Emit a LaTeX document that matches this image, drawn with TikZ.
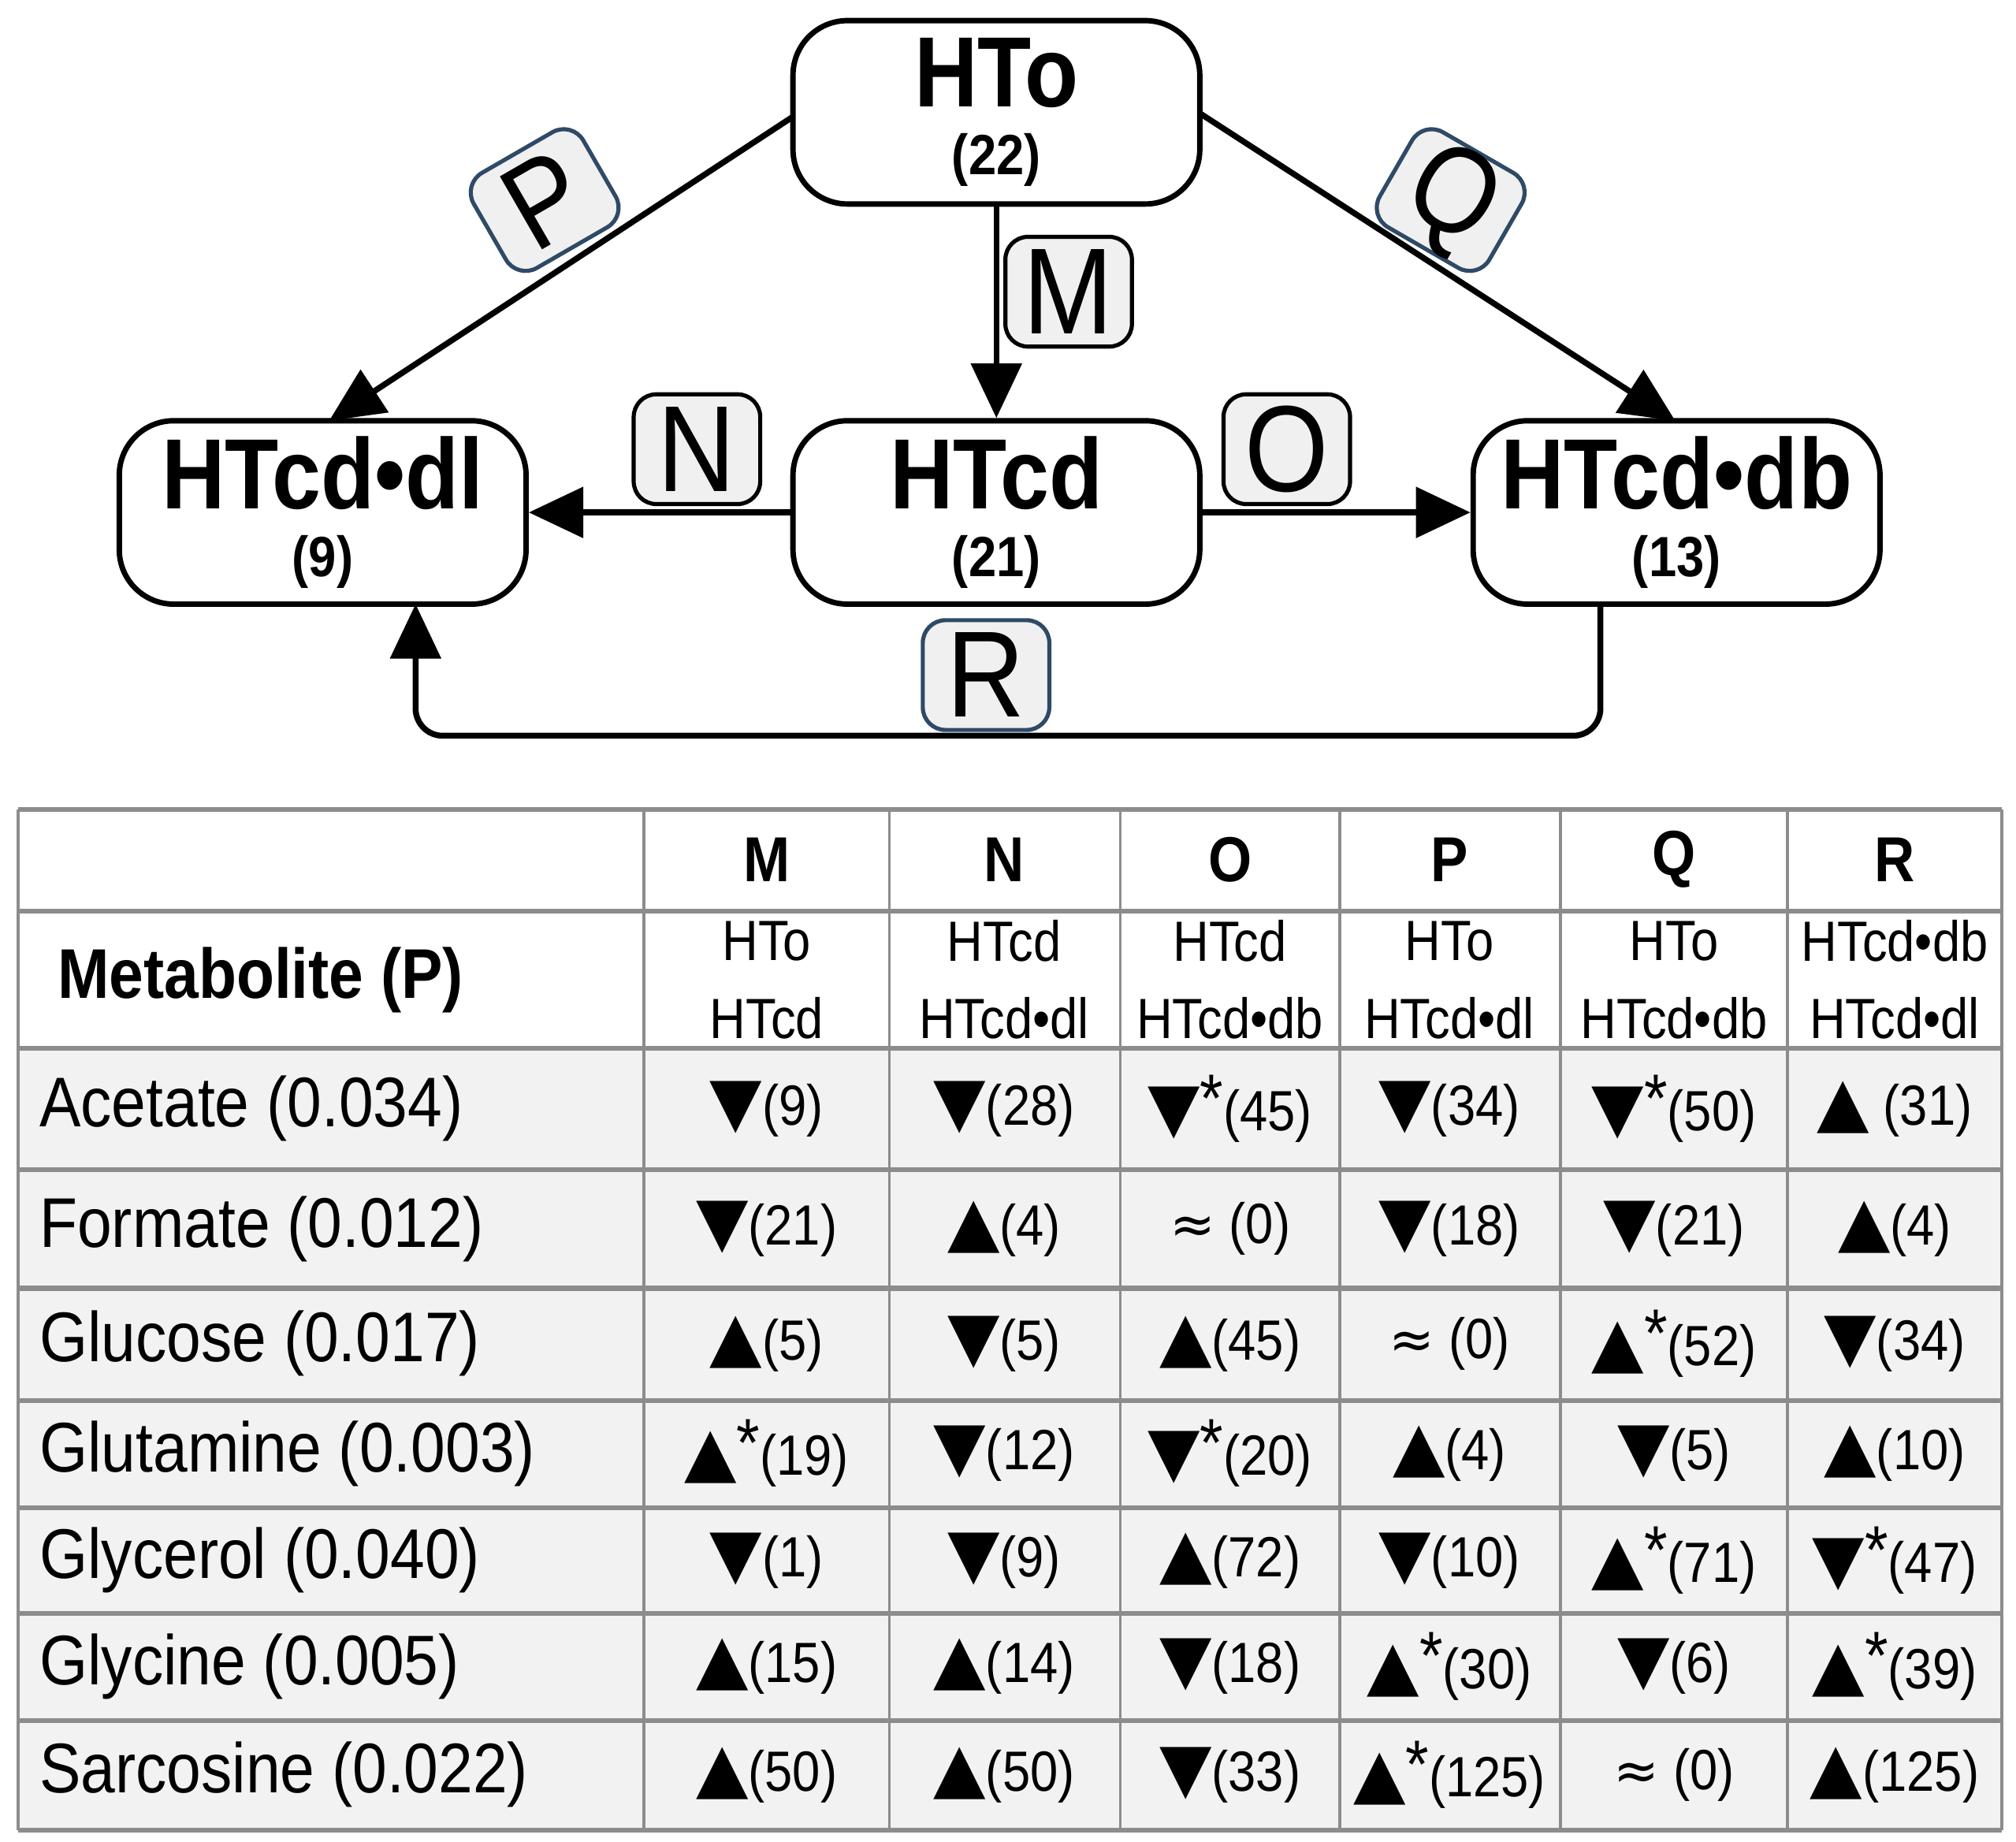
\documentclass[tikz,border=0pt]{standalone}
\usepackage{fontspec}
\setmainfont{Liberation Sans}[FakeStretch=0.88]
\newfontfamily\symf{DejaVu Sans}
\usetikzlibrary{arrows.meta}
\definecolor{lblfill}{HTML}{F0F0F0}
\definecolor{lblblue}{HTML}{2E4A66}
\definecolor{rowgray}{HTML}{F2F2F2}
\definecolor{gridgray}{HTML}{8C8C8C}
\newcommand{\up}{{\symf\fontsize{15pt}{15pt}\selectfont ▲}}
\newcommand{\dn}{{\symf\fontsize{15pt}{15pt}\selectfont ▼}}
\newcommand{\apx}{{\symf\fontsize{12pt}{12pt}\selectfont ≈}}
\newcommand{\st}{\raisebox{0.3ex}{\fontsize{15pt}{15pt}\selectfont *}}
\begin{document}
\begin{tikzpicture}[x=0.01cm,y=-0.01cm,
  statebox/.style={draw,line width=1.2pt,rounded corners=12pt,minimum width=3.15cm,minimum height=1.42cm,align=center,inner sep=0pt},
  lbl/.style={draw,line width=0.9pt,fill=lblfill,rounded corners=5pt,minimum width=0.98cm,minimum height=0.85cm,font=\fontsize{27pt}{27pt}\selectfont,inner sep=0pt},
  lblb/.style={lbl,draw=lblblue},
  conn/.style={line width=1.3pt,-{Triangle[length=12pt,width=11pt]}},
  cell/.style={font=\fontsize{12.5pt}{14pt}\selectfont},
  met/.style={anchor=west,inner sep=0pt,font=\fontsize{15.5pt}{16pt}\selectfont},
  hd/.style={font=\bfseries\fontsize{14pt}{16pt}\selectfont},
  sub/.style={font=\fontsize{12.5pt}{14pt}\selectfont}]
\useasboundingbox (0,0) rectangle (1562,1427);
\newcommand{\bx}[2]{{\bfseries\fontsize{22pt}{24pt}\selectfont #1}\\[3pt]{\bfseries\fontsize{12.5pt}{13pt}\selectfont #2}}
\node[statebox] (hto) at (772,87) {\bx{HTo}{(22)}};
\node[statebox] (dl) at (250,397) {\bx{HTcd•dl}{(9)}};
\node[statebox] (cd) at (772,397) {\bx{HTcd}{(21)}};
\node[statebox] (db) at (1299,397) {\bx{HTcd•db}{(13)}};
\coordinate (hl) at (615,90);
\coordinate (hr) at (930,88);
\coordinate (dlt) at (255,326);
\coordinate (dbt) at (1298,326);
\draw[conn] (hl) -- (dlt);
\draw[conn] (hr) -- (dbt);
\draw[conn] (hto.south) -- (cd.north);
\draw[conn] (cd.west) -- (dl.east);
\draw[conn] (cd.east) -- (db.east -| db.west);
\coordinate (r1) at (1240,468);
\coordinate (r2) at (1240,570);
\coordinate (r3) at (322,570);
\coordinate (r4) at (322,468);
\draw[conn,rounded corners=6pt] (r1) -- (r2) -- (r3) -- (r4);
\node[lblb,rotate=30] (lp) at (422,155) {P};
\node[lblb,rotate=-30] (lq) at (1124,155) {Q};
\node[lbl] (lm) at (828,226) {M};
\node[lbl] (ln) at (540,348) {N};
\node[lbl] (lo) at (997,348) {O};
\node[lblb] (lr) at (764,523) {R};
% table
\fill[rowgray] (14,812) rectangle (1551,1418);
\foreach \y in {627,706,812,906,998,1085,1168,1250,1333,1418}
  \draw[gridgray,line width=1.1pt] (14,\y) -- (1551,\y);
\foreach \x in {14,499,689,868,1038,1209,1385,1551}
  \draw[gridgray,line width=0.6pt] (\x,627) -- (\x,1418);
\node[anchor=west,inner sep=0pt,font=\bfseries\fontsize{15.5pt}{16pt}\selectfont] (mh) at (44,759) {Metabolite (P)};
\foreach \c/\x/\a/\b in {M/594/HTo/HTcd,N/778/HTcd/HTcd•dl,O/953/HTcd/HTcd•db,P/1123/HTo/HTcd•dl,Q/1297/HTo/HTcd•db,R/1468/HTcd•db/HTcd•dl}{
  \node[hd] (h\c) at (\x,666) {\c};
  \node[sub] (sa\c) at (\x,729) {\a};
  \node[sub] (sb\c) at (\x,789) {\b};
}
\foreach \r/\y/\n in {1/859/Acetate (0.034),2/952/Formate (0.012),3/1041/Glucose (0.017),4/1126/Glutamine (0.003),5/1209/Glycerol (0.040),6/1291/Glycine (0.005),7/1375/Sarcosine (0.022)}
  \node[met] (m\r) at (30,\y) {\n};
\newcommand{\row}[8]{%
  \node[cell] at (594,#1) {#2};
  \node[cell] at (778,#1) {#3};
  \node[cell] at (953,#1) {#4};
  \node[cell] at (1123,#1) {#5};
  \node[cell] at (1297,#1) {#6};
  \node[cell] at (1468,#1) {#7};}
\row{859}{\dn(9)}{\dn(28)}{\dn\st(45)}{\dn(34)}{\dn\st(50)}{\up\ (31)}{}
\row{952}{\dn(21)}{\up(4)}{\apx\ (0)}{\dn(18)}{\dn(21)}{\up(4)}{}
\row{1041}{\up(5)}{\dn(5)}{\up(45)}{\apx\ (0)}{\up\st(52)}{\dn(34)}{}
\row{1126}{\up\st(19)}{\dn(12)}{\dn\st(20)}{\up(4)}{\dn(5)}{\up(10)}{}
\row{1209}{\dn(1)}{\dn(9)}{\up(72)}{\dn(10)}{\up\st(71)}{\dn\st(47)}{}
\row{1291}{\up(15)}{\up(14)}{\dn(18)}{\up\st(30)}{\dn(6)}{\up\st(39)}{}
\row{1375}{\up(50)}{\up(50)}{\dn(33)}{\up\st(125)}{\apx\ (0)}{\up(125)}{}
\end{tikzpicture}
\end{document}
